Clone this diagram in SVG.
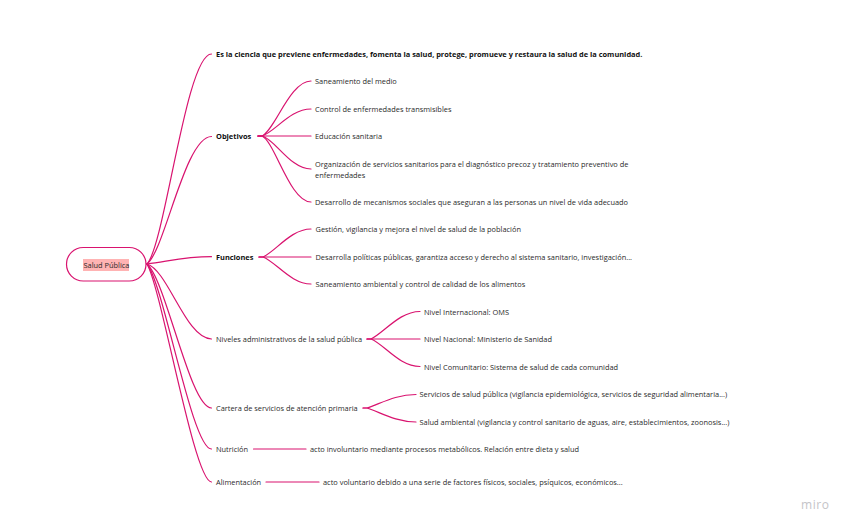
<svg xmlns="http://www.w3.org/2000/svg" width="848" height="528" viewBox="0 0 848 528">
<style>
text{font-family:"Open Sans","Noto Sans",sans-serif;font-size:7.42px;fill:#2a2a2a}
.b{font-weight:700;fill:#111}
#connectors path{fill:none;stroke:#d9136f;stroke-width:1.2;stroke-linecap:round}
</style>
<rect width="848" height="528" fill="#fff"/>
<g id="connectors">
<path d="M147 264C165 245 186 54 211.500 54"/>
<path d="M147 264C165 250 185 136.500 211.500 136.500"/>
<path d="M147 264C170 261 185 256.700 211.500 256.700"/>
<path d="M147 264C168 270 186 339 211.500 339"/>
<path d="M147 264C166 280 190 408 211.500 408"/>
<path d="M147 264C164 285 192 449 211.500 449"/>
<path d="M147 264C162 290 194 482 211.500 482"/>
<path d="M258 136H262C275 130 290 81 311 81"/>
<path d="M258 136H262C275 132 290 109 311 109"/>
<path d="M258 136H311"/>
<path d="M258 136H262C275 139 290 169 311 169"/>
<path d="M258 136H262C275 142 290 202 311 202"/>
<path d="M259 257H263C276 251 291 229 311 229"/>
<path d="M259 257H311"/>
<path d="M259 257H263C276 262 291 284 311 284"/>
<path d="M367 339H371C384 333 399 311.500 420 311.500"/>
<path d="M367 339H420"/>
<path d="M367 339H371C384 344 399 366.500 420 366.500"/>
<path d="M363 408H367C380 404 395 394.500 416 394.500"/>
<path d="M363 408H367C380 412 395 422 416 422"/>
<path d="M253.500 449H306"/>
<path d="M266 482H319"/>
</g>
<g id="root">
<rect x="66.500" y="247.500" width="79.500" height="33.500" rx="16.750" fill="#fff" stroke="#d9136f" stroke-width="1.200"/>
<rect x="83" y="259" width="46" height="12" fill="#ffb3b3"/>
<text x="83.500" y="267.500">Salud Pública</text>
</g>
<g id="definicion"><text class="b" x="216" y="57">Es la ciencia que previene enfermedades, fomenta la salud, protege, promueve y restaura la salud de la comunidad.</text></g>
<g id="objetivos"><text class="b" x="216" y="139">Objetivos</text></g>
<g id="obj1"><text x="315" y="84">Saneamiento del medio</text></g>
<g id="obj2"><text x="315" y="112">Control de enfermedades transmisibles</text></g>
<g id="obj3"><text x="315" y="139">Educación sanitaria</text></g>
<g id="obj4"><text x="315" y="166.500">Organización de servicios sanitarios para el diagnóstico precoz y tratamiento preventivo de</text><text x="315" y="177.500">enfermedades</text></g>
<g id="obj5"><text x="315" y="205">Desarrollo de mecanismos sociales que aseguran a las personas un nivel de vida adecuado</text></g>
<g id="funciones"><text class="b" x="216" y="260">Funciones</text></g>
<g id="fun1"><text x="315.500" y="232">Gestión, vigilancia y mejora el nivel de salud de la población</text></g>
<g id="fun2"><text x="315.500" y="260">Desarrolla políticas públicas, garantiza acceso y derecho al sistema sanitario, investigación...</text></g>
<g id="fun3"><text x="315.500" y="287">Saneamiento ambiental y control de calidad de los alimentos</text></g>
<g id="niveles"><text x="216" y="342">Niveles administrativos de la salud pública</text></g>
<g id="niv1"><text x="424" y="314.500">Nivel Internacional: OMS</text></g>
<g id="niv2"><text x="424" y="342">Nivel Nacional: Ministerio de Sanidad</text></g>
<g id="niv3"><text x="424" y="369.500">Nivel Comunitario: Sistema de salud de cada comunidad</text></g>
<g id="cartera"><text x="216" y="411">Cartera de servicios de atención primaria</text></g>
<g id="car1"><text x="419.500" y="397">Servicios de salud pública (vigilancia epidemiológica, servicios de seguridad alimentaria...)</text></g>
<g id="car2"><text x="419.500" y="425">Salud ambiental (vigilancia y control sanitario de aguas, aire, establecimientos, zoonosis...)</text></g>
<g id="nutricion"><text x="216" y="452">Nutrición</text></g>
<g id="nut1"><text x="310" y="452">acto involuntario mediante procesos metabólicos. Relación entre dieta y salud</text></g>
<g id="alimentacion"><text x="216" y="485">Alimentación</text></g>
<g id="ali1"><text x="323" y="485">acto voluntario debido a una serie de factores físicos, sociales, psíquicos, económicos...</text></g>
<text x="801" y="508.500" style="font-size:12px;fill:#c4c4c8;letter-spacing:.6px">miro</text>
</svg>
